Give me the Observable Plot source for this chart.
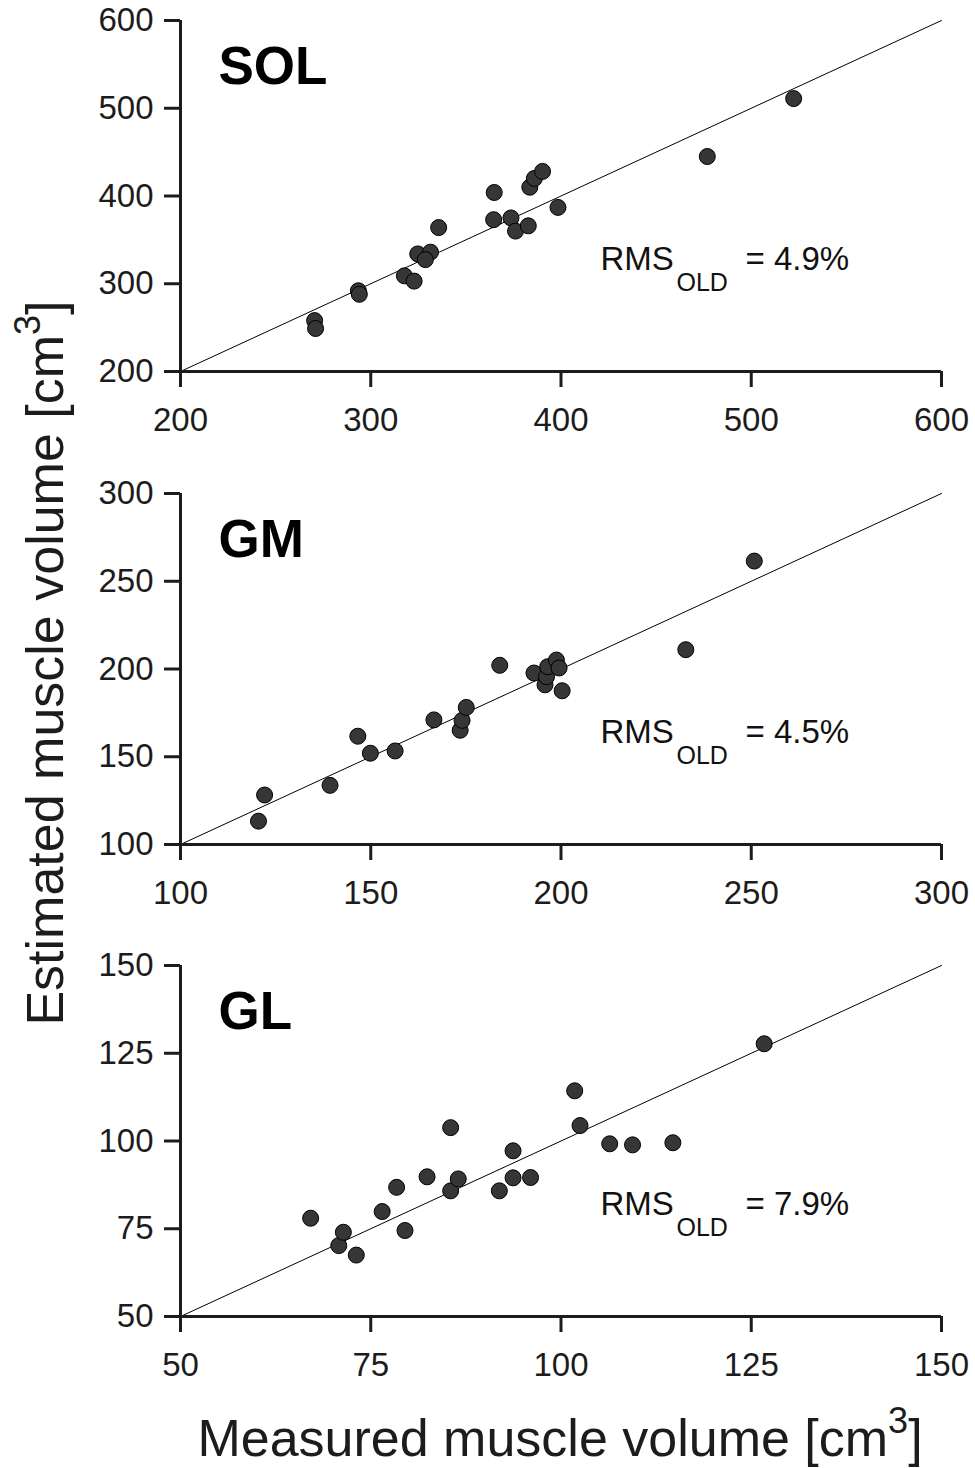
<!DOCTYPE html>
<html>
<head>
<meta charset="utf-8">
<script src="https://cdn.jsdelivr.net/npm/d3@7"></script>
<script src="https://cdn.jsdelivr.net/npm/@observablehq/plot@0.6"></script>
<style>
  html, body { margin: 0; padding: 0; background: #fff; }
  #root { position: relative; width: 975px; height: 1468px; overflow: hidden; font-family: "Liberation Sans", Arial, sans-serif; color: #1c1c1c; }
  #root svg { position: absolute; left: 0; }
  .lab { position: absolute; font-size: 52px; line-height: 60px; height: 60px; white-space: nowrap; text-align: center; }
  .sup { font-size: 36px; position: relative; top: -23px; }
</style>
</head>
<body>
<div id="root"></div>
<script>
// ---- data ----
const panelNames = ["SOL", "GM", "GL"];
const rmsLabels = ["= 4.9%", "= 4.5%", "= 7.9%"];

const solDomain = [200, 600];
const solTicks = [200, 300, 400, 500, 600];
const solMeasured  = [270.5, 271, 293.5, 294, 317.7, 322.8, 324.7, 331.4, 328.7, 335.7, 364.9, 364.6, 373.7, 376.1, 382.8, 383.6, 386, 390.3, 398.4, 476.9, 522.3];
const solEstimated = [258, 249, 292, 288, 309, 303, 334, 336, 327.5, 364, 404, 373, 375, 360, 366, 410, 420, 428, 387, 445, 511];

const gmDomain = [100, 300];
const gmTicks = [100, 150, 200, 250, 300];
const gmMeasured  = [120.5, 122.1, 139.3, 146.6, 149.9, 156.4, 166.6, 173.5, 174, 175.1, 183.9, 192.9, 195.8, 196.2, 196.5, 198.8, 199.5, 200.3, 232.8, 250.8];
const gmEstimated = [113.3, 128.2, 133.7, 161.7, 152, 153.3, 171, 165.1, 170.7, 178.1, 202.1, 197.7, 191, 195.6, 201.3, 205.1, 200.6, 187.6, 211, 261.5];

const glDomain = [50, 150];
const glTicks = [50, 75, 100, 125, 150];
const glMeasured  = [67.1, 70.8, 71.4, 73.1, 76.5, 78.4, 79.5, 82.4, 85.5, 85.5, 86.5, 91.9, 93.7, 93.7, 96, 101.8, 102.5, 106.4, 109.4, 114.7, 126.7];
const glEstimated = [78, 70.2, 74, 67.5, 79.9, 86.8, 74.5, 89.8, 103.8, 85.8, 89.2, 85.8, 97.2, 89.5, 89.6, 114.3, 104.4, 99.2, 98.9, 99.5, 127.7];

// ---- build ----
const root = document.getElementById("root");
const font = "Liberation Sans, Arial, sans-serif";
const shift = 3;

function panel(name, rms, measured, estimated, domain, ticks, top, mt, h) {
  const data = measured.map((m, i) => ({m, e: estimated[i]}));
  const plotH = 351;
  const svg = Plot.plot({
    width: 975,
    height: h,
    marginLeft: 180,
    marginRight: 34,
    marginTop: mt,
    marginBottom: h - mt - plotH,
    x: {domain, ticks},
    y: {domain, ticks},
    style: {fontFamily: font, fontSize: "33px", color: "#1c1c1c", background: "transparent", overflow: "visible"},
    marks: [
      Plot.line(domain.map(v => ({m: v, e: v})), {x: "m", y: "e", stroke: "#000", strokeWidth: 1}),
      Plot.axisX({ticks, tickSize: 16, tickPadding: 20, fontSize: 33, label: null, tickFormat: d => String(d)}),
      Plot.axisY({ticks, tickSize: 16, tickPadding: 11, fontSize: 33, label: null, tickFormat: d => String(d)}),
      Plot.ruleX([domain[0]], {stroke: "#1c1c1c", strokeWidth: 3}),
      Plot.ruleY([domain[0]], {stroke: "#1c1c1c", strokeWidth: 3}),
      Plot.dot(data, {x: "m", y: "e", r: 8, fill: "#363636", stroke: "#000", strokeWidth: 1}),
      Plot.text([name], {text: d => d, frameAnchor: "top-left", dx: 38, dy: 26, fontSize: 53, fontWeight: "bold", textAnchor: "start", lineAnchor: "top", fill: "#000"}),
      Plot.text(["RMS"], {text: d => d, frameAnchor: "top-left", dx: 420, dy: 226, fontSize: 33, textAnchor: "start", lineAnchor: "top", fill: "#111"}),
      Plot.text(["OLD"], {text: d => d, frameAnchor: "top-left", dx: 496, dy: 253, fontSize: 25, textAnchor: "start", lineAnchor: "top", fill: "#111"}),
      Plot.text([rms], {text: d => d, frameAnchor: "top-left", dx: 565, dy: 226, fontSize: 33, textAnchor: "start", lineAnchor: "top", fill: "#111"})
    ]
  });
  // thicker tick strokes
  d3.select(svg).selectAll('g[aria-label$="tick"]').attr("stroke-width", 3).attr("stroke", "#1c1c1c");
  svg.style.top = (top + shift) + "px";
  root.appendChild(svg);
}

panel(panelNames[0], rmsLabels[0], solMeasured, solEstimated, solDomain, solTicks, 0, 17, 460);
panel(panelNames[1], rmsLabels[1], gmMeasured, gmEstimated, gmDomain, gmTicks, 460, 30, 470);
panel(panelNames[2], rmsLabels[2], glMeasured, glEstimated, glDomain, glTicks, 930, 32, 470);

// shared axis labels
const xl = document.createElement("div");
xl.className = "lab";
xl.style.left = "60px";
xl.style.width = "1000px";
xl.style.top = (1405 + shift) + "px";
xl.innerHTML = 'Measured muscle volume [cm<span class="sup">3</span>]';
root.appendChild(xl);

const yl = document.createElement("div");
yl.className = "lab";
const cx = 44.5, cy = 659.5 + shift;
yl.style.width = "1000px";
yl.style.left = (cx - 500) + "px";
yl.style.top = (cy - 30) + "px";
yl.style.transform = "rotate(-90deg)";
yl.innerHTML = 'Estimated muscle volume [cm<span class="sup">3</span>]';
root.appendChild(yl);
</script>
</body>
</html>
